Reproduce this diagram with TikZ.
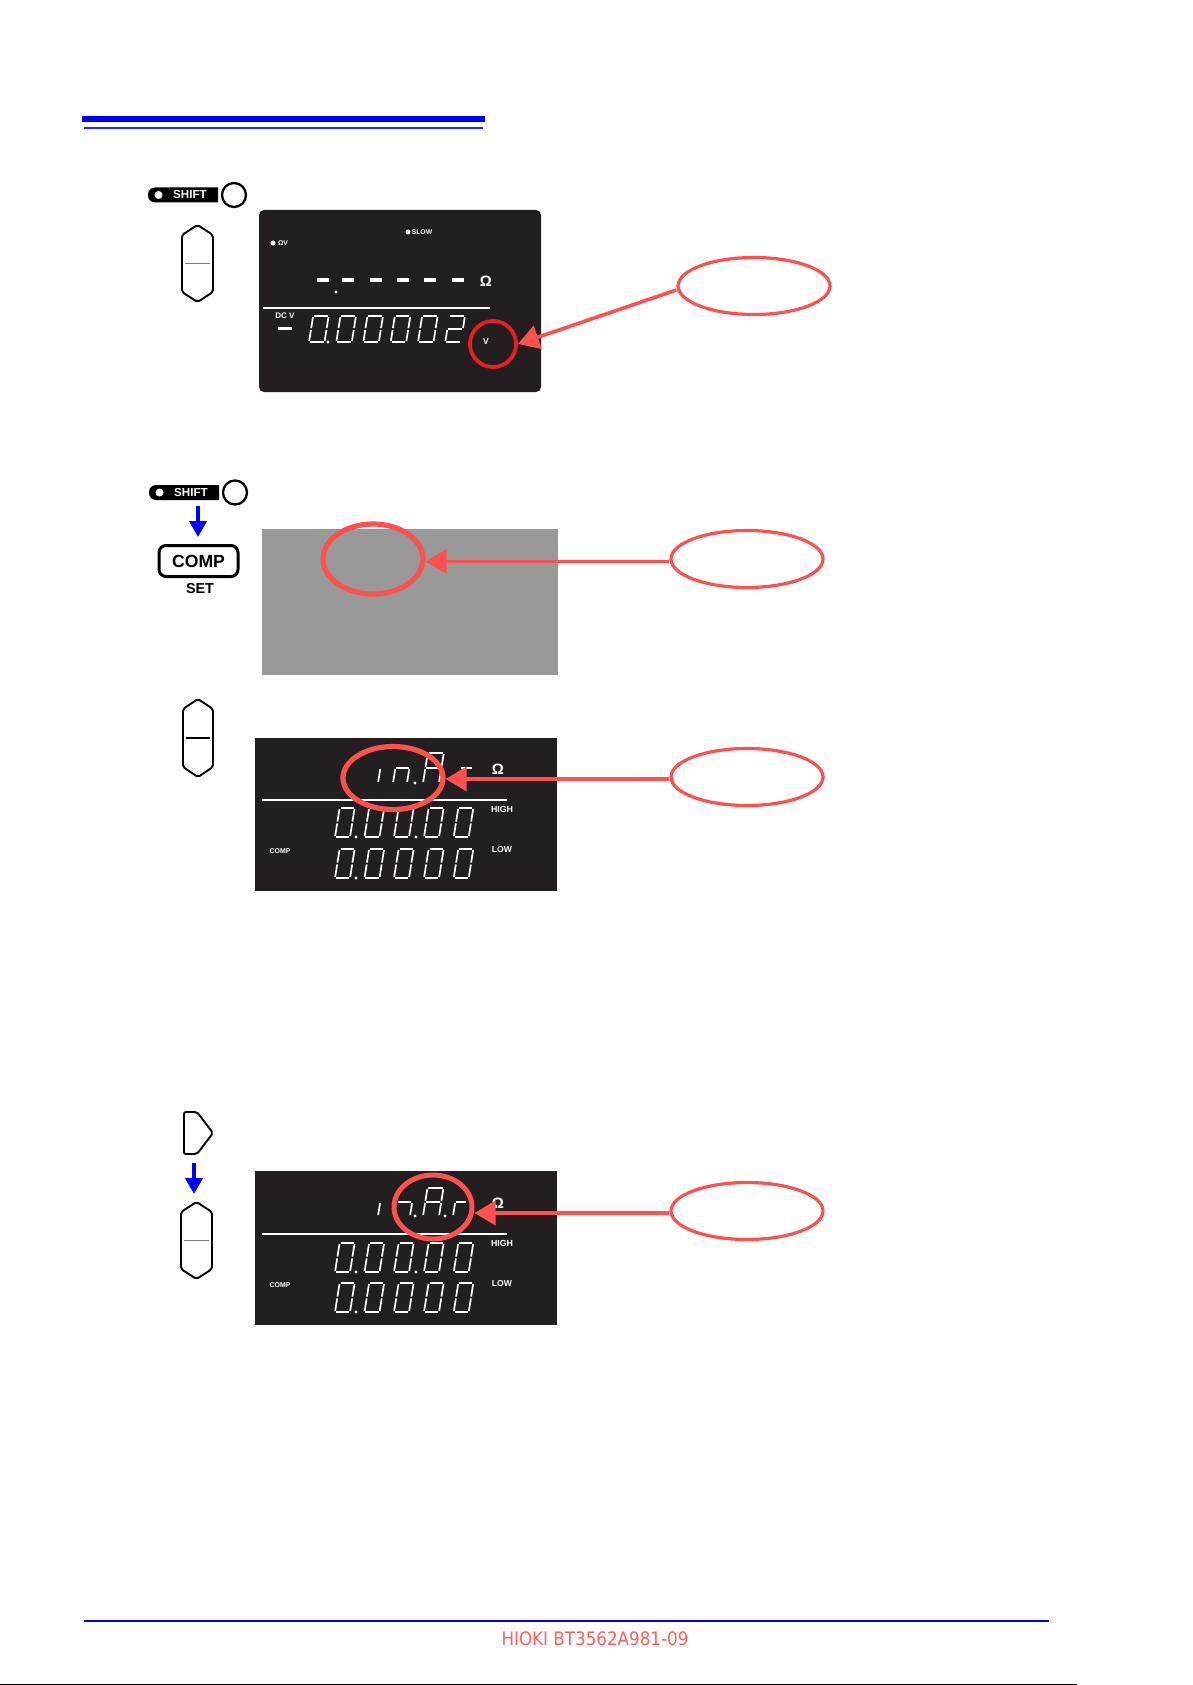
\documentclass[tikz,border=0pt]{standalone}
\usepackage{fontspec}
\setmainfont{Liberation Sans}
\newfontfamily\footfont[FakeStretch=0.9]{DejaVu Sans}
\usetikzlibrary{shapes.geometric,arrows.meta,calc}
\definecolor{panel}{HTML}{231F20}
\definecolor{callred}{HTML}{FF5050}
\definecolor{ringred}{HTML}{EE1C25}
\definecolor{pureblue}{HTML}{0000FF}
\tikzset{
  panelbox/.style={fill=panel,draw=none},
  keyshape/.style={draw=black,line width=1.9pt,fill=white,rounded corners=2pt},
  keyline/.style={line width=1.2pt,draw=#1},
  callout/.style={ellipse,draw=callred,line width=3.2pt,fill=white,minimum width=152pt,minimum height=57pt,inner sep=0pt},
  ring/.style={ellipse,draw=#1,inner sep=0pt},
  callarrow/.style={draw=callred,line width=3.6pt,-{Triangle[width=24pt,length=21pt]}},
  bluearrow/.style={draw=pureblue,line width=4pt,-{Triangle[width=17pt,length=16pt]}},
  segline/.style={draw=white,line width=1.7pt},
  lab/.style={inner sep=0pt,text=white,font=\bfseries\fontsize{#1}{#1}\selectfont},
  blk/.style={inner sep=0pt,text=black,font=\bfseries\fontsize{#1}{#1}\selectfont},
  shiftled/.style={circle,draw=black,line width=2.3pt,fill=white,minimum size=24pt,inner sep=0pt}
}
\newcommand\segA{\draw[segline] (0.9,-\dh) -- (\dw-0.9,-\dh);}
\newcommand\segB{\draw[segline] (\dw,-\dh+0.9) -- (\dw,-\dh/2-0.9);}
\newcommand\segC{\draw[segline] (\dw,-\dh/2+0.9) -- (\dw,-0.9);}
\newcommand\segD{\draw[segline] (0.9,0) -- (\dw-0.9,0);}
\newcommand\segE{\draw[segline] (0,-\dh/2+0.9) -- (0,-0.9);}
\newcommand\segF{\draw[segline] (0,-\dh+0.9) -- (0,-\dh/2-0.9);}
\newcommand\segG{\draw[segline] (0.9,-\dh/2) -- (\dw-0.9,-\dh/2);}
\newcommand\dzero{\segA\segB\segC\segD\segE\segF}
\newcommand\dtwo{\segA\segB\segG\segE\segD}
\newcommand\dletA{\segA\segB\segC\segE\segF\segG}
\newcommand\sevenseg[5]{\begin{scope}[shift={(#1,#2)},xslant=.16]\def\dw{#3}\def\dh{#4}#5\end{scope}}
\newcommand\segdot[2]{\fill[white] (#1,#2) circle (1.6pt);}
\newcommand\rockerkey[5]{%
  \draw[keyshape] (#1,#3+10) -- ({(#1+#2)/2},#3) -- (#2,#3+10) -- (#2,#4-10) -- ({(#1+#2)/2},#4) -- (#1,#4-10) -- cycle;
  \draw[keyline=#5] (#1+3,{(#3+#4)/2}) -- (#2-3,{(#3+#4)/2});}
\newcommand\shiftpill[2]{%
  \fill[black] (#1+70,#2-7.5) [rounded corners=7pt] -- (#1,#2-7.5) -- (#1,#2+7.5) [sharp corners] -- (#1+70,#2+7.5) -- cycle;
  \fill[white] (#1+10.5,#2) circle (4pt);
  \node[lab=11.6] at (#1+42,#2) {SHIFT};
  \node[shiftled] at (#1+86,#2) {};}
\begin{document}
\begin{tikzpicture}[x=1pt,y=-1pt]
\useasboundingbox (0,0) rectangle (1192,1685);
\fill[white] (0,0) rectangle (1192,1685);
% header rules
\fill[pureblue] (82,116) rectangle (485,122);
\fill[pureblue!85] (84,127) rectangle (483,129);

% ---- block 1
\shiftpill{148}{195}
\rockerkey{182}{213}{225}{302}{black!50}
\fill[panelbox,rounded corners=5pt] (259,210) rectangle (541,392);
\fill[white] (408,232) circle (2.5pt);
\node[lab=6.8] (slow) at (422,232) {SLOW};
\fill[white] (273,243) circle (2.5pt);
\node[lab=6.8] (ohmv) at (283,243) {ΩV};
\foreach \x in {317,342,369.5,397,424,451.5}{\draw[white,line width=3.2pt] (\x,280) -- (\x+12,280);}
\fill[white] (336,292) circle (1.6pt);
\node[lab=15] (ohm1) at (486,281) {Ω};
\draw[white,line width=1.3pt] (263,308) -- (490,308);
\node[lab=8] (dcv) at (285,316) {DC V};
\draw[white,line width=3pt] (278,328) -- (292,328);
\foreach \x in {309,336.3,363.3,390.7,418}{\sevenseg{\x}{342}{15.5}{26}{\dzero}}
\sevenseg{445.3}{342}{15.5}{26}{\dtwo}
\segdot{328}{342}
\node[lab=8.5] (volt) at (486,342) {V};
\node[ring=ringred,line width=3.8pt,circle,minimum size=46pt] (c1) at (493,344) {};
\node[callout] (e1) at (754,286) {};
\coordinate (e1s) at ($(e1.west)+(0,4)$);
\draw[callarrow] (e1s) -- (c1.east);

% ---- block 2
\shiftpill{149}{492.5}
\coordinate (b2a) at (198,506);
\coordinate (b2b) at (198,537);
\node[draw=black,line width=3pt,rounded corners=7pt,minimum width=79pt,minimum height=31pt,inner sep=0pt,font=\bfseries\fontsize{17.6}{17.6}\selectfont] (comp) at (198.5,561) {COMP};
\node[blk=14.4] (set) at (200,589) {SET};
\draw[bluearrow] (b2a) -- (b2b);
\fill[black!40] (262,529) rectangle (558,675);
\node[ring=callred,line width=5.2pt,minimum width=100pt,minimum height=70pt] (c2) at (373,559) {};
\node[callout] (e2) at (747,559) {};
\coordinate (e2s) at ($(e2.west)+(0,2.5)$);
\draw[callarrow] (e2s) -- (e2s -| c2.east);

% ---- block 3
\rockerkey{183}{213}{699}{777}{black}
\fill[panelbox] (255,738) rectangle (557,891);
\draw[white,line width=1.5pt] (262,800) -- (507,800);
\node[lab=15] (ohm3) at (498,769) {Ω};
\node[lab=8.8] (high3) at (502,809) {HIGH};
\node[lab=8.6] (low3) at (502,850) {LOW};
\node[lab=6.9] (comp3) at (280,851) {COMP};
\foreach \x in {335,364.5,394,424,453.7}{\sevenseg{\x}{837}{15}{29}{\dzero}\sevenseg{\x}{878}{15}{29}{\dzero}}
\segdot{356}{837}\segdot{416}{837}\segdot{356}{878}
\sevenseg{378}{783}{14}{30}{\segE}
\sevenseg{393}{783}{14}{30}{\segE\segC\segG}
\segdot{415}{783}
\sevenseg{423}{783}{16}{30}{\dletA}
\sevenseg{458}{783}{12}{30}{\segG}
\node[ring=callred,line width=5.2pt,minimum width=100pt,minimum height=63pt] (c3) at (393,778) {};
\node[callout] (e3) at (747,777) {};
\coordinate (e3s) at ($(e3.west)+(0,2)$);
\draw[callarrow] (e3s) -- (e3s -| c3.east);

% ---- block 4
\draw[keyshape] (184,1112) -- (197,1112) -- (213,1133) -- (197,1154) -- (184,1154) -- cycle;
\coordinate (b4a) at (194,1163);
\coordinate (b4b) at (194,1194);
\draw[bluearrow] (b4a) -- (b4b);
\rockerkey{181}{212}{1202}{1279}{black!50}
\fill[panelbox] (255,1171) rectangle (557,1325);
\draw[white,line width=1.5pt] (262,1234) -- (507,1234);
\node[lab=15] (ohm4) at (498,1203) {Ω};
\node[lab=8.8] (high4) at (502,1243) {HIGH};
\node[lab=8.6] (low4) at (502,1284) {LOW};
\node[lab=6.9] (comp4) at (280,1285) {COMP};
\foreach \x in {335,364.5,394,424,453.7}{\sevenseg{\x}{1272}{15}{29}{\dzero}\sevenseg{\x}{1312}{15}{29}{\dzero}}
\segdot{356}{1272}\segdot{416}{1272}\segdot{356}{1312}
\sevenseg{378}{1216}{14}{28}{\segE}
\sevenseg{395}{1216}{15}{28}{\segC\segG}
\segdot{415}{1216}
\sevenseg{423}{1216}{16}{28}{\dletA}
\segdot{445}{1216}
\sevenseg{453}{1216}{12}{28}{\segE\segG}
\node[ring=callred,line width=5pt,minimum width=78pt,minimum height=64pt] (c4) at (433,1207) {};
\node[callout] (e4) at (747,1211) {};
\coordinate (e4s) at ($(e4.west)+(0,2)$);
\draw[callarrow] (e4s) -- (e4s -| c4.east);

% ---- footer
\fill[pureblue] (84,1620) rectangle (1049,1622);
\node[inner sep=0pt,text=callred!90,font=\footfont\fontsize{18.6}{18.6}\selectfont] (foot) at (595,1639) {HIOKI BT3562A981-09};
\fill[black] (0,1683.5) rectangle (1077,1685);
\end{tikzpicture}
\end{document}
